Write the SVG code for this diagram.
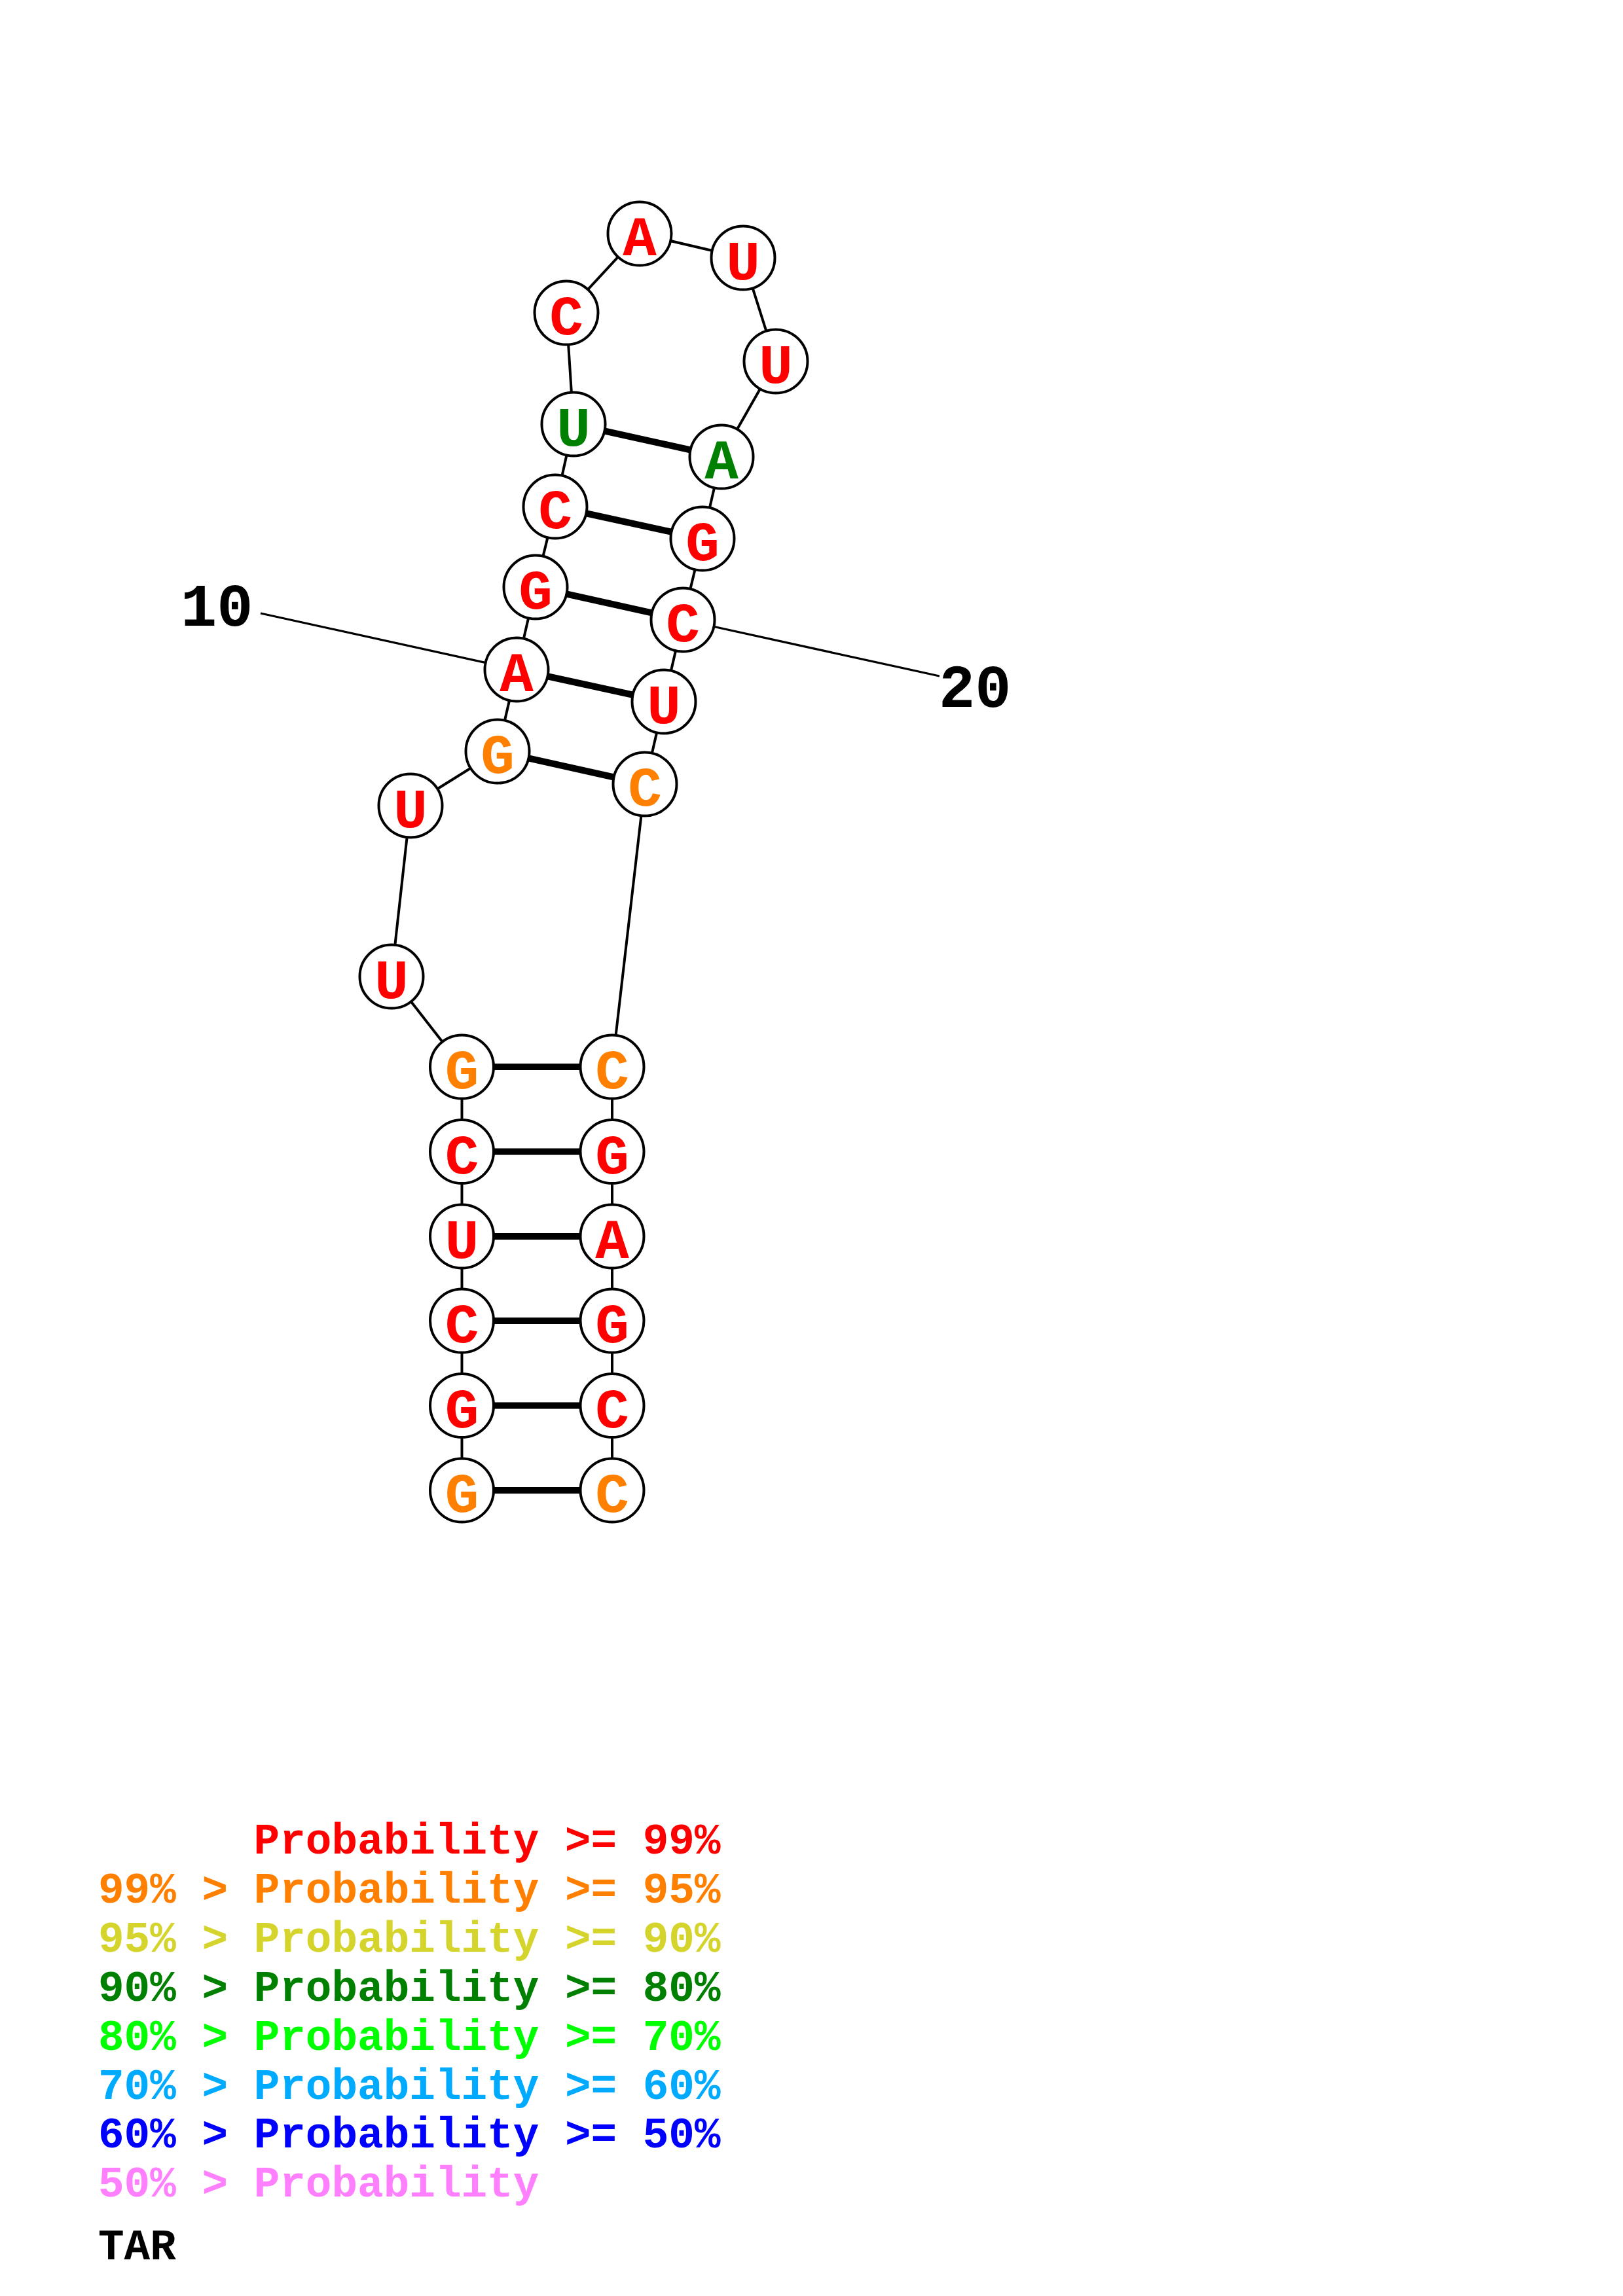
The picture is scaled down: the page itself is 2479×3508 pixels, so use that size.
<svg xmlns="http://www.w3.org/2000/svg" width="2479" height="3508" viewBox="0 0 2479 3508">
<style>
.bb{stroke:#000;stroke-width:4;fill:none}
.pr{stroke:#000;stroke-width:10;fill:none}
.nl{stroke:#000;stroke-width:3.2;fill:none}
.nd circle{fill:#fff;stroke:#000;stroke-width:4}
.nd text{font-family:"Liberation Mono","DejaVu Sans Mono",monospace;font-weight:bold;font-size:86px;text-anchor:middle}
.r{fill:#FF0000}.o{fill:#FF8000}.g{fill:#008000}
.lab{font-family:"Liberation Mono","DejaVu Sans Mono",monospace;font-weight:bold;font-size:92px;fill:#000}
.lg{font-family:"Liberation Mono","DejaVu Sans Mono",monospace;font-weight:bold;font-size:66px}
</style>
<rect width="2479" height="3508" fill="#fff"/>
<g id="connectors">
<polyline class="bb" points="705.5,2277 705.5,2147.5 705.5,2018 705.5,1889 705.5,1759.5 705.5,1630 598,1492 627,1231 760,1148 789,1023 818,897 848,774 876,648 865,478 977,357 1135,394 1185,552 1102,698 1073,823 1043,947 1014,1072 985,1198 935,1630 935,1759.5 935,1889 935,2018 935,2147.5 935,2277"/>
<line class="pr" x1="705.5" y1="2277" x2="935" y2="2277"/>
<line class="pr" x1="705.5" y1="2147.5" x2="935" y2="2147.5"/>
<line class="pr" x1="705.5" y1="2018" x2="935" y2="2018"/>
<line class="pr" x1="705.5" y1="1889" x2="935" y2="1889"/>
<line class="pr" x1="705.5" y1="1759.5" x2="935" y2="1759.5"/>
<line class="pr" x1="705.5" y1="1630" x2="935" y2="1630"/>
<line class="pr" x1="760" y1="1148" x2="985" y2="1198"/>
<line class="pr" x1="789" y1="1023" x2="1014" y2="1072"/>
<line class="pr" x1="818" y1="897" x2="1043" y2="947"/>
<line class="pr" x1="848" y1="774" x2="1073" y2="823"/>
<line class="pr" x1="876" y1="648" x2="1102" y2="698"/>
<line class="nl" x1="398" y1="937" x2="789" y2="1023"/>
<line class="nl" x1="1043" y1="947" x2="1435" y2="1033"/>
</g>
<g id="n1" class="nd"><circle cx="705.5" cy="2277" r="48.5"/><text class="o" x="705.5" y="2310">G</text></g>
<g id="n2" class="nd"><circle cx="705.5" cy="2147.5" r="48.5"/><text class="r" x="705.5" y="2180.5">G</text></g>
<g id="n3" class="nd"><circle cx="705.5" cy="2018" r="48.5"/><text class="r" x="705.5" y="2051">C</text></g>
<g id="n4" class="nd"><circle cx="705.5" cy="1889" r="48.5"/><text class="r" x="705.5" y="1922">U</text></g>
<g id="n5" class="nd"><circle cx="705.5" cy="1759.5" r="48.5"/><text class="r" x="705.5" y="1792.5">C</text></g>
<g id="n6" class="nd"><circle cx="705.5" cy="1630" r="48.5"/><text class="o" x="705.5" y="1663">G</text></g>
<g id="n7" class="nd"><circle cx="598" cy="1492" r="48.5"/><text class="r" x="598" y="1525">U</text></g>
<g id="n8" class="nd"><circle cx="627" cy="1231" r="48.5"/><text class="r" x="627" y="1264">U</text></g>
<g id="n9" class="nd"><circle cx="760" cy="1148" r="48.5"/><text class="o" x="760" y="1181">G</text></g>
<g id="n10" class="nd"><circle cx="789" cy="1023" r="48.5"/><text class="r" x="789" y="1056">A</text></g>
<g id="n11" class="nd"><circle cx="818" cy="897" r="48.5"/><text class="r" x="818" y="930">G</text></g>
<g id="n12" class="nd"><circle cx="848" cy="774" r="48.5"/><text class="r" x="848" y="807">C</text></g>
<g id="n13" class="nd"><circle cx="876" cy="648" r="48.5"/><text class="g" x="876" y="681">U</text></g>
<g id="n14" class="nd"><circle cx="865" cy="478" r="48.5"/><text class="r" x="865" y="511">C</text></g>
<g id="n15" class="nd"><circle cx="977" cy="357" r="48.5"/><text class="r" x="977" y="390">A</text></g>
<g id="n16" class="nd"><circle cx="1135" cy="394" r="48.5"/><text class="r" x="1135" y="427">U</text></g>
<g id="n17" class="nd"><circle cx="1185" cy="552" r="48.5"/><text class="r" x="1185" y="585">U</text></g>
<g id="n18" class="nd"><circle cx="1102" cy="698" r="48.5"/><text class="g" x="1102" y="731">A</text></g>
<g id="n19" class="nd"><circle cx="1073" cy="823" r="48.5"/><text class="r" x="1073" y="856">G</text></g>
<g id="n20" class="nd"><circle cx="1043" cy="947" r="48.5"/><text class="r" x="1043" y="980">C</text></g>
<g id="n21" class="nd"><circle cx="1014" cy="1072" r="48.5"/><text class="r" x="1014" y="1105">U</text></g>
<g id="n22" class="nd"><circle cx="985" cy="1198" r="48.5"/><text class="o" x="985" y="1231">C</text></g>
<g id="n23" class="nd"><circle cx="935" cy="1630" r="48.5"/><text class="o" x="935" y="1663">C</text></g>
<g id="n24" class="nd"><circle cx="935" cy="1759.5" r="48.5"/><text class="r" x="935" y="1792.5">G</text></g>
<g id="n25" class="nd"><circle cx="935" cy="1889" r="48.5"/><text class="r" x="935" y="1922">A</text></g>
<g id="n26" class="nd"><circle cx="935" cy="2018" r="48.5"/><text class="r" x="935" y="2051">G</text></g>
<g id="n27" class="nd"><circle cx="935" cy="2147.5" r="48.5"/><text class="r" x="935" y="2180.5">C</text></g>
<g id="n28" class="nd"><circle cx="935" cy="2277" r="48.5"/><text class="o" x="935" y="2310">C</text></g>
<g id="labels">
<text class="lab" x="276" y="956">10</text>
<text class="lab" x="1434" y="1080">20</text>
</g>
<g id="legend" class="lg">
<text x="387.6" y="2832" fill="#FF0000">Probability &gt;= 99%</text>
<text x="150" y="2907" fill="#FF8000">99% &gt; Probability &gt;= 95%</text>
<text x="150" y="2982" fill="#D4D42C">95% &gt; Probability &gt;= 90%</text>
<text x="150" y="3057" fill="#008000">90% &gt; Probability &gt;= 80%</text>
<text x="150" y="3132" fill="#00FF00">80% &gt; Probability &gt;= 70%</text>
<text x="150" y="3207" fill="#00AAFF">70% &gt; Probability &gt;= 60%</text>
<text x="150" y="3281" fill="#0000FF">60% &gt; Probability &gt;= 50%</text>
<text x="150" y="3356" fill="#FF80FF">50% &gt; Probability</text>
<text x="150" y="3452" fill="#000">TAR</text>
</g>
</svg>
